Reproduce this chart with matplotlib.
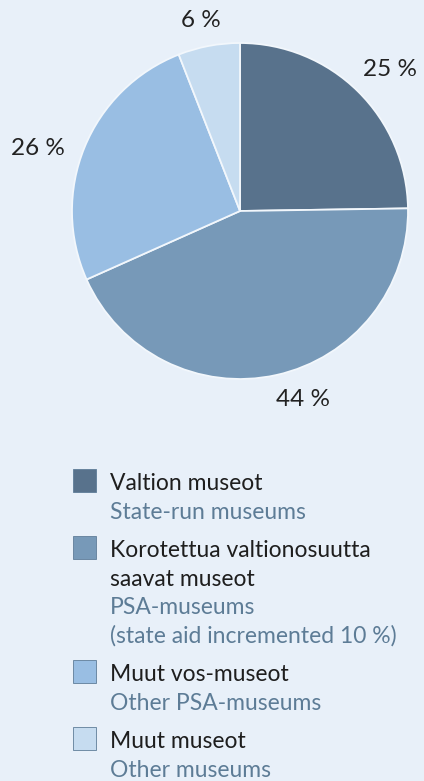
import matplotlib
matplotlib.use("Agg")
import matplotlib.pyplot as plt
from matplotlib.patches import Rectangle
import numpy as np

# Data
shares = [25, 44, 26, 6]
colors = ["#58728C", "#7799B8", "#99BEE3", "#C6DCF0"]
legend_fi = ["Valtion museot", "Korotettua valtionosuutta\nsaavat museot", "Muut vos-museot", "Muut museot"]
legend_en = ["State-run museums", "PSA-museums\n(state aid incremented 10 %)", "Other PSA-museums", "Other museums"]

# Layout: label distance (px) and angular offset (deg) relative to wedge middle
label_dist = [206, 199, 212, 195]
label_dang = [-2, 6, 5, 1]

BG = "#E8F0F9"
FONT = "Lato"
W, H = 424, 781
CX, CY, R = 240, H - 211, 168
fig = plt.figure(figsize=(W / 100, H / 100), dpi=100, facecolor=BG)
ax = fig.add_axes([0, 0, 1, 1])
ax.axis("off")
ax.set_facecolor(BG)

wedges, _ = ax.pie(shares, colors=colors, startangle=90, counterclock=False,
                   center=(CX, CY), radius=R,
                   wedgeprops=dict(edgecolor="#F2F7FC", linewidth=1.3))
ax.set_xlim(0, W)
ax.set_ylim(0, H)
ax.set_aspect("auto")

for w, v, d, da in zip(wedges, shares, label_dist, label_dang):
    mid = np.deg2rad((w.theta1 + w.theta2) / 2 + da)
    ax.text(CX + d * np.cos(mid), CY + d * np.sin(mid), f"{v} %", fontsize=17.5,
            color="#222222", family=FONT, ha="center", va="center")

# Legend
x_box, box = 73, 23
x_text = 110
line = 28.7
y = 490  # first baseline (from top)
for c, fi, en in zip(colors, legend_fi, legend_en):
    ax.add_patch(Rectangle((x_box, H - y - 2), box, box, facecolor=c, edgecolor="#5F7D99", linewidth=0.6))
    for ln in fi.split("\n"):
        ax.text(x_text, H - y, ln, fontsize=16.5, color="#1E1E1E", family=FONT, va="baseline", ha="left")
        y += line
    for ln in en.split("\n"):
        ax.text(x_text, H - y, ln, fontsize=16.5, color="#5D7C96", family=FONT, va="baseline", ha="left")
        y += line
    y += line * 0.33

fig.savefig("out.png", dpi=100, facecolor=BG)
